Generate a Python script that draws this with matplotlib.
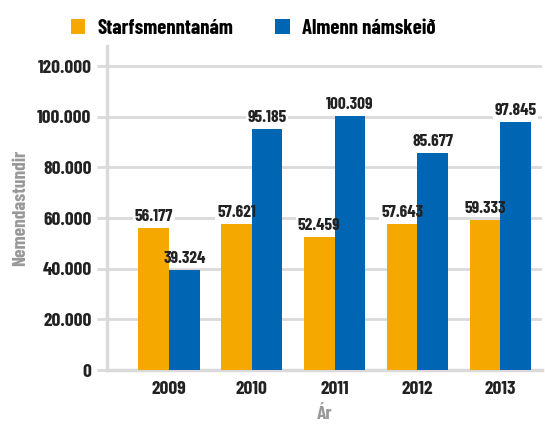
import matplotlib.pyplot as plt
import numpy as np
from matplotlib import font_manager

years = ["2009", "2010", "2011", "2012", "2013"]
starfsmenntanam = [56177, 57621, 52459, 57643, 59333]
almenn = [39324, 95185, 100309, 85677, 97845]
series_names = ["Starfsmenntanám", "Almenn námskeið"]

names = {f.name for f in font_manager.fontManager.ttflist}
family = "DejaVu Sans"
for cand in ["Barlow Condensed", "Roboto Condensed", "Fira Sans Extra Condensed"]:
    if cand in names:
        family = cand
        break
plt.rcParams["font.family"] = [family, "DejaVu Sans"]

orange = "#F5A800"
blue = "#0066B3"
grid_col = "#dadada"
text_col = "#222222"

fig = plt.figure(figsize=(5.45, 4.32), dpi=100)
ax = fig.add_axes([0.196, 0.1435, 0.798, 0.7505])

x = np.arange(len(years))
w = 0.37
b1 = ax.bar(x - w / 2, starfsmenntanam, w, color=orange, label=series_names[0], zorder=3)
b2 = ax.bar(x + w / 2, almenn, w, color=blue, label=series_names[1], zorder=3)


def fmt(v):
    return f"{v:,}".replace(",", ".")


# data labels: a white box under the bars breaks the gridline,
# the visible text sits on top of everything
for bars, vals in ((b1, starfsmenntanam), (b2, almenn)):
    for r, v in zip(bars, vals):
        cx = r.get_x() + r.get_width() / 2
        ax.text(cx, v + 1600, fmt(v), ha="center", va="bottom", fontsize=12.5,
                fontweight="bold", color="white", alpha=0, zorder=2.5,
                bbox=dict(boxstyle="square,pad=0.1", facecolor="white", edgecolor="none"))
        ax.text(cx, v + 1600, fmt(v), ha="center", va="bottom", fontsize=12.5,
                fontweight="bold", color=text_col, zorder=5)

ax.set_xlim(-0.75, 4.5)
ax.set_ylim(0, 128000)
ticks = np.arange(0, 120001, 20000)
ax.set_yticks(ticks)
ax.set_yticklabels([fmt(t) for t in ticks], fontsize=14, fontweight="bold", color=text_col)
ax.set_xticks(x)
ax.set_xticklabels(years, fontsize=14, fontweight="bold", color=text_col)
ax.tick_params(axis="y", length=7, width=2, color=grid_col, pad=4)
ax.tick_params(axis="x", length=0, pad=8)
ax.yaxis.grid(True, color=grid_col, linewidth=2, zorder=0)

for s in ("top", "right"):
    ax.spines[s].set_visible(False)
ax.spines["left"].set_color(grid_col)
ax.spines["left"].set_linewidth(2.5)
ax.spines["bottom"].set_color(grid_col)
ax.spines["bottom"].set_linewidth(2.5)

ax.set_ylabel("Nemendastundir", fontsize=14, fontweight="bold", color="#999999", labelpad=6)
ax.set_xlabel("Ár", fontsize=14, fontweight="bold", color="#999999", labelpad=6)

fig.legend(handles=[b1, b2], loc="upper left", bbox_to_anchor=(0.095, 1.0), ncol=2,
           frameon=False, prop={"weight": "bold", "size": 15},
           handlelength=0.7, handleheight=0.7, columnspacing=2.0, handletextpad=0.6)

fig.savefig("out.png", dpi=100)
